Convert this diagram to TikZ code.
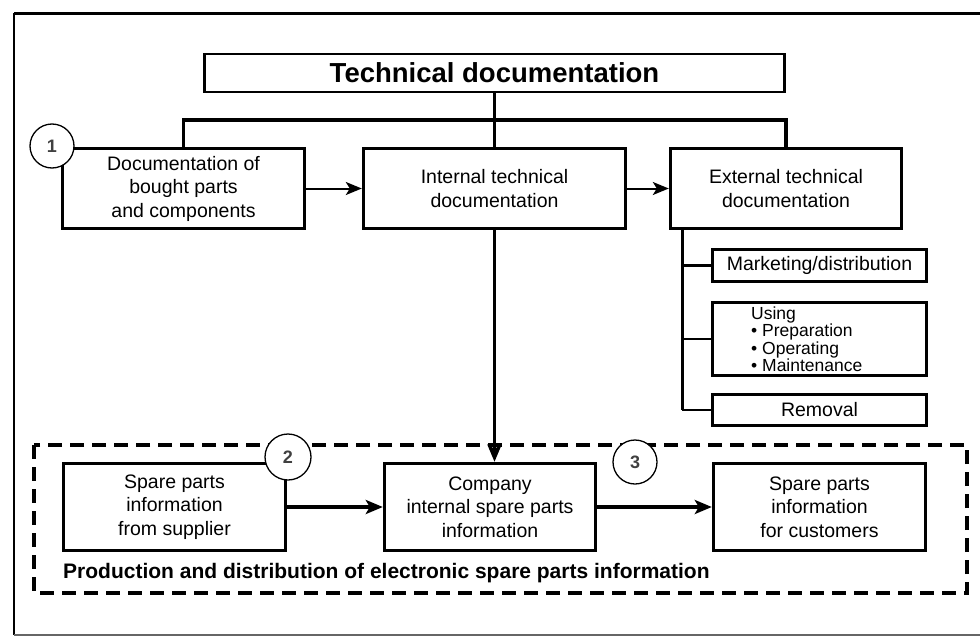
\documentclass[tikz,border=0pt]{standalone}
\usepackage{fontspec}
\setmainfont{Liberation Sans}
\usetikzlibrary{arrows.meta}
\begin{document}
\begin{tikzpicture}[x=1pt,y=-1pt,
  box/.style={draw,line width=3.4pt,fill=white,align=center,inner sep=0pt,
    font=\fontsize{19.5}{23.5}\selectfont},
  smallbox/.style={box,line width=3pt},
  num/.style={draw,circle,line width=1.3pt,fill=white,minimum size=44pt,inner sep=0pt,
    font=\fontsize{18}{18}\selectfont\bfseries, text=black!75},
  bus/.style={line width=3.6pt},
  thinarrow/.style={line width=2pt,-{Stealth[length=16pt,width=13pt,inset=4pt]}},
  thickarrow/.style={line width=3.6pt,-{Stealth[length=17pt,width=14pt,inset=4pt]}},
  branch/.style={line width=2.2pt}]
\useasboundingbox (0,0) rectangle (980,637);
\fill[white] (0,0) rectangle (980,637);
% outer frame
\draw[line width=3pt] (14,13) -- (980,13);
\draw[line width=2pt] (14,13) -- (14,635);
\draw[line width=1.2pt,black!60] (14,635) -- (980,635);

% top part
\node[box,line width=2.4pt,minimum width=580pt,minimum height=38pt,
  font=\fontsize{27.5}{30}\selectfont\bfseries] (title) at (494.5,73) {Technical documentation};
\node[box,minimum width=242pt,minimum height=80pt] (doc) at (183.5,188.5)
  {Documentation of\\bought parts\\and components};
\node[box,minimum width=262pt,minimum height=80pt] (int) at (494.5,188.5)
  {Internal technical\\documentation};
\node[box,minimum width=231pt,minimum height=80pt] (ext) at (786,188.5)
  {External technical\\documentation};

\coordinate (busL) at (doc.north |- 0,120);
\coordinate (busR) at (ext.north |- 0,120);
\draw[bus] (doc.north) -- (busL) -- (busR) -- (ext.north);
\draw[bus] (title.south) -- (int.north);

\draw[thinarrow] (doc.east) -- (int.west);
\draw[thinarrow] (int.east) -- (ext.west);

% external sub-boxes
\node[smallbox,minimum width=214pt,minimum height=32pt] (mkt) at (819.5,265.5)
  {Marketing/distribution};
\node[smallbox,minimum width=214pt,minimum height=73pt] (use) at (819.5,339) {};
\node[anchor=west,align=left,inner sep=0pt,font=\fontsize{17.5}{17.5}\selectfont] (usetxt) at (751,339)
  {Using\\\textbullet{} Preparation\\\textbullet{} Operating\\\textbullet{} Maintenance};
\node[smallbox,minimum width=214pt,minimum height=31pt] (rem) at (819.5,410)
  {Removal};
\coordinate (trunk) at (682,230);
\draw[line width=3pt] (trunk) -- (trunk |- rem.west);
\draw[branch] (trunk |- mkt.west) -- (mkt.west);
\draw[branch] (trunk |- use.west) -- (use.west);
\draw[branch] (trunk |- rem.west) -- (rem.west);

% bottom part
\draw[line width=4.5pt,dash pattern=on 14pt off 8pt] (34,445) rectangle (967,593);
\node[box,minimum width=222pt,minimum height=87pt] (sup) at (174.5,507)
  {Spare parts\\information\\from supplier};
\node[box,minimum width=211pt,minimum height=87pt] (comp) at (490,507)
  {Company\\internal spare parts\\information};
\node[box,minimum width=212pt,minimum height=87pt] (cust) at (819.5,507)
  {Spare parts\\information\\for customers};
\node[anchor=west,inner sep=0pt,font=\fontsize{21}{24}\selectfont\bfseries] (prodlabel) at (63,573)
  {Production and distribution of electronic spare parts information};

\draw[thickarrow] (sup.east) -- (comp.west);
\draw[thickarrow] (comp.east) -- (cust.west);
\draw[thickarrow] (int.south) -- (int.south |- comp.north);

% numbered circles
\node[num] (n1) at (52,146) {1};
\node[num,minimum size=46pt] (n2) at (288,457) {2};
\node[num] (n3) at (635,462) {3};
\end{tikzpicture}
\end{document}
